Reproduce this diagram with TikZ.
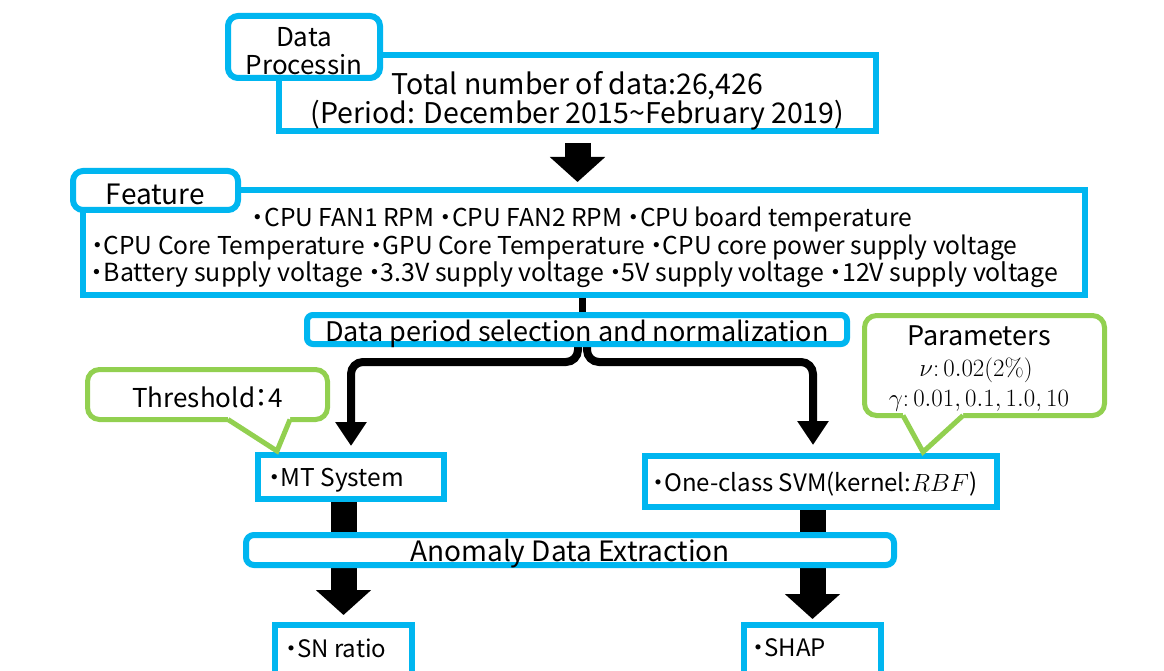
\documentclass[tikz,border=0pt]{standalone}
\usepackage[no-math]{fontspec}
\setmainfont{Noto Sans CJK JP}[RawFeature=+palt]
\usetikzlibrary{arrows.meta,calc}
\definecolor{boxblue}{HTML}{00B6F0}
\definecolor{callgreen}{HTML}{92D050}
\pgfdeclarelayer{back}
\pgfdeclarelayer{bg}
\pgfsetlayers{back,bg,main}
\newcommand{\myfs}[1]{\fontsize{#1}{#1}\selectfont}
\begin{document}
\begin{tikzpicture}[x=1pt,y=-1pt,
  bbox/.style={draw=boxblue, line width=6pt, fill=white, inner sep=0pt},
  rbox/.style={bbox, rounded corners=10pt},
  gbox/.style={draw=callgreen, line width=5pt, fill=white, rounded corners=12pt, inner sep=0pt},
  tailline/.style={draw=callgreen, line width=5pt, line join=miter},
  txt/.style={inner sep=0pt, font=\myfs{24.6}},
  fork/.style={line width=8pt, rounded corners=12pt, -{Triangle[width=30pt,length=24pt]}},
  fat/.style={line width=26pt, -{Triangle[width=54pt,length=25pt]}},
  shaft/.style={line width=26pt}]
\useasboundingbox (0,0) rectangle (1164,671);
\begin{pgfonlayer}{back}
\fill[white] (0,0) rectangle (1164,671);
\end{pgfonlayer}

% top
\node[bbox, minimum width=597pt, minimum height=76pt] (total) at (577.5,93) {};
\node[inner sep=0pt, align=center, font=\fontsize{28.5}{29}\selectfont] (totalT) at (577.5,101) {Total number of data:26,426\\(Period: December 2015\textasciitilde February 2019)};
\node[rbox, minimum width=152pt, minimum height=62pt] (tab1) at (304,47) {};
\node[inner sep=0pt, align=center, font=\fontsize{26}{28}\selectfont] (tab1T) at (304,51) {Data\\Processin};

% features
\node[bbox, minimum width=1002pt, minimum height=105pt] (feat) at (584,242.5) {};
\node[rbox, minimum width=165pt, minimum height=39pt] (ftab) at (155.5,190.5) {};
\node[inner sep=0pt, font=\myfs{28}] (ftabT) at (155.5,194) {Feature};
\node[txt] (f1) at (582,220) {・CPU FAN1 RPM ・CPU FAN2 RPM ・CPU board temperature};
\node[txt, anchor=west] (f2) at (91,248) {・CPU Core Temperature ・GPU Core Temperature ・CPU core power supply voltage};
\node[txt, anchor=west, font=\myfs{24.9}] (f3) at (91,275) {・Battery supply voltage ・3.3V supply voltage ・5V supply voltage ・12V supply voltage};

% data period
\node[bbox, rounded corners=6pt, minimum width=540pt, minimum height=29pt] (dp) at (577,329.5) {};
\node[inner sep=0pt, font=\myfs{27}] (dpT) at (577,333.5) {Data period selection and normalization};

% callouts
\node[gbox, minimum width=240pt, minimum height=50pt] (thr) at (207.5,394.5) {};
\node[inner sep=0pt, font=\myfs{26}] (thrT) at (207.5,397.5) {Threshold：4};
\node[gbox, minimum width=240pt, minimum height=100pt] (par) at (984.5,365.5) {};
\node[inner sep=0pt, font=\myfs{27}] (parT) at (979,336) {Parameters};
\node[inner sep=0pt, font=\myfs{30}] (parN) at (976,370) {$\nu\colon 0.02(2\%)$};
\node[inner sep=0pt, font=\myfs{30}] (parG) at (979,401) {$\gamma\colon 0.01, 0.1, 1.0, 10$};

% methods
\node[bbox, minimum width=186pt, minimum height=44pt] (mt) at (351,477) {};
\node[txt, anchor=west, font=\myfs{24.5}] (mtT) at (268,480) {・MT System};
\node[bbox, minimum width=352pt, minimum height=51pt] (svm) at (821,481.5) {};
\node[txt, anchor=west, font=\myfs{24}] (svmT) at (652,484) {・One-class SVM(kernel:$RBF$)};

% anomaly
\node[bbox, rounded corners=8pt, minimum width=648pt, minimum height=30pt] (anom) at (570,550) {};
\node[inner sep=0pt, font=\myfs{28}] (anomT) at (570,554) {Anomaly Data Extraction};

% results
\node[bbox, minimum width=137pt, minimum height=49pt] (sn) at (343.5,649.5) {};
\node[txt, anchor=west, font=\myfs{24}] (snT) at (285,648) {・SN ratio};
\node[bbox, minimum width=137pt, minimum height=49pt] (shap) at (812.5,649.5) {};
\node[txt, anchor=west, font=\myfs{24}] (shapT) at (752,648) {・SHAP};

% callout tails
\coordinate (thrTip) at (277,451);
\fill[white] (228,416) -- (228,419.5) -- (thrTip) -- (290,419.5) -- (290,416) -- cycle;
\draw[tailline] (228,419.5) -- (thrTip) -- (290,419.5);
\coordinate (parTip) at (923,452);
\fill[white] (903,412) -- (903,415.5) -- (parTip) -- (963,415.5) -- (963,412) -- cycle;
\draw[tailline] (903,415.5) -- (parTip) -- (963,415.5);

% connectors
\coordinate (forkL) at (mt.north |- 0,362);
\coordinate (forkR) at (813,362);
\coordinate (dpL) at ($(dp.south)+(1,0)$);
\coordinate (dpR) at ($(dp.south)+(10,0)$);
\begin{pgfonlayer}{bg}
\draw[line width=7pt] ($(dp.north |- feat.south)+(5.5,0)$) -- ($(dp.north)+(5.5,0)$);
\draw[fork] (dpL) |- (forkL) -- ($(mt.north)+(0,-6)$);
\draw[fork] (dpR) |- (forkR) -- ($(forkR |- svm.north)+(0,-8)$);
\draw[fat] ($(total.south)+(0,9)$) -- ($(total.south |- feat.north)+(0,-5)$);
\draw[shaft] (mt.south -| sn.north) -- (anom.north -| sn.north);
\draw[fat] (anom.south -| sn.north) -- ($(sn.north)+(0,-7)$);
\draw[shaft] (svm.south -| shap.north) -- (anom.north -| shap.north);
\draw[fat] (anom.south -| shap.north) -- ($(shap.north)+(0,-3)$);
\end{pgfonlayer}
\end{tikzpicture}
\end{document}
